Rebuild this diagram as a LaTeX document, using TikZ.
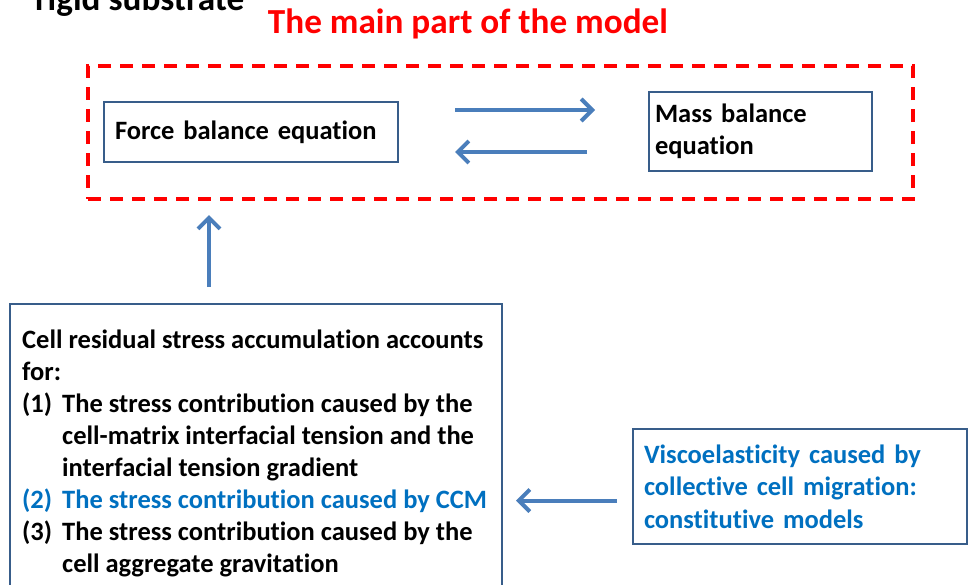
\documentclass[tikz,border=0pt]{standalone}
\usepackage{fontspec}
\setmainfont{Carlito}[Ligatures=CommonOff]
\usetikzlibrary{arrows.meta,calc}
\definecolor{boxblue}{HTML}{385D8A}
\definecolor{arrowblue}{HTML}{4A7EBB}
\definecolor{textblue}{HTML}{0070C0}
\tikzset{
  eqbox/.style={draw=boxblue, line width=2.5pt, inner ysep=0pt, outer sep=0pt,
    font=\bfseries\fontsize{26.5}{32.5}\selectfont, align=left},
  flow/.style={draw=arrowblue, line width=4pt, -{Straight Barb[length=11pt,width=22pt]}},
  bigtext/.style={font=\bfseries\fontsize{35.2}{40}\selectfont, inner sep=0pt, anchor=base},
}
\begin{document}
\begin{tikzpicture}[x=1pt,y=-1pt]
\useasboundingbox (0,0) rectangle (969,584);
\clip (0,0) rectangle (969,584);

\node[bigtext, anchor=base west] (rigid) at (35,10) {rigid substrate};
\node[bigtext, text=red] (title) at (468,33) {The main part of the model};

\node[draw=red, line width=3.5pt, dash pattern=on 13pt off 9pt, outer sep=0pt,
  minimum width=825pt, minimum height=133pt, anchor=north west] (main) at (88,66) {};

\node[eqbox, anchor=north west, minimum height=60pt, text width=272pt, inner xsep=11pt] (force) at (104,102) {Force balance equation};
\node[eqbox, anchor=north west, minimum height=79pt, text width=211pt, inner xsep=6pt] (mass) at (649,92) {Mass balance\\equation};

\draw[flow] ($(force.east)+(57,-22)$) -- ($(force.east -| mass.west)+(-54,-22)$);
\draw[flow] ($(force.east -| mass.west)+(-62,20)$) -- ($(force.east)+(57,20)$);

\node[draw=boxblue, line width=2.5pt, outer sep=0pt, inner sep=0pt, anchor=north west,
  minimum width=492pt, minimum height=320pt] (stress) at (10,304) {};
\node[anchor=north west, inner sep=0pt, align=left, font=\bfseries\fontsize{26.5}{32}\selectfont] (stresstext) at (22,330) {%
Cell residual stress accumulation accounts\\
for:\\
\makebox[40pt][l]{(1)}The stress contribution caused by the\\
\hspace*{40pt}cell-matrix interfacial tension and the\\
\hspace*{40pt}interfacial tension gradient\\
\textcolor{textblue}{\makebox[40pt][l]{(2)}The stress contribution caused by CCM}\\
\makebox[40pt][l]{(3)}The stress contribution caused by the\\
\hspace*{40pt}cell aggregate gravitation};

\draw[flow] ($(stress.north west)+(199,-17)$) -- ($(main.south west)+(121,16)$);

\node[eqbox, text=textblue, anchor=north west, minimum height=115pt, text width=312pt, inner xsep=11pt] (visco) at (633,429) {Viscoelasticity caused by\\collective cell migration:\\constitutive models};

\draw[flow] ($(visco.west)+(-16,14)$) -- ($(visco.west -| stress.east)+(14,14)$);
\end{tikzpicture}
\end{document}
